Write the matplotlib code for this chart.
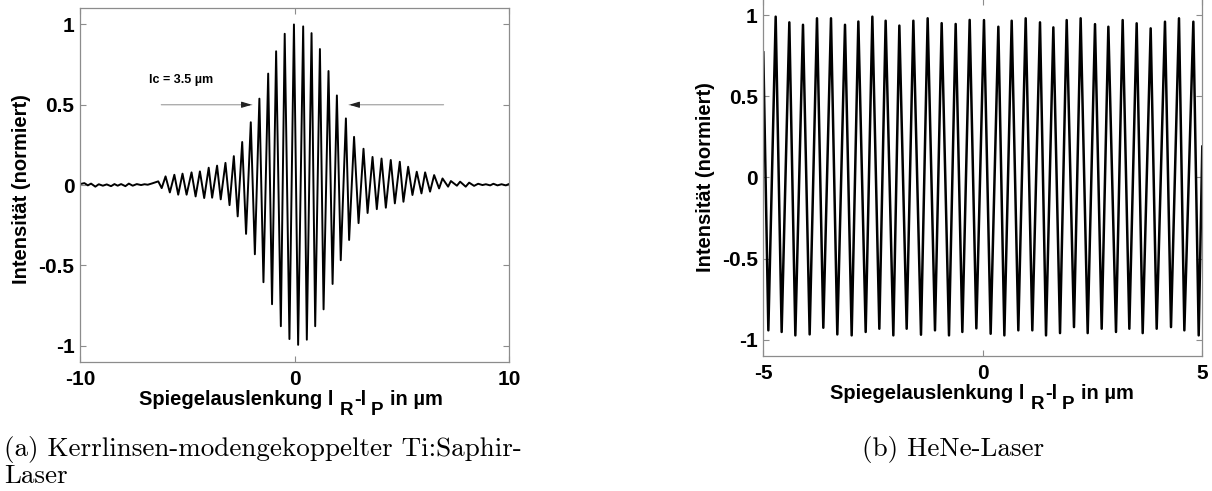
import matplotlib
matplotlib.use("Agg")
import matplotlib.pyplot as plt
from matplotlib.transforms import IdentityTransform

plt.rcParams['font.family'] = ['Liberation Sans', 'DejaVu Sans']
plt.rcParams['font.weight'] = 'bold'

# ---- (a) Ti:Sapphire white-light interferogram: extrema ----
ti_x = [-10.0, -9.80, -9.64, -9.49, -9.29, -9.13, -8.94, -8.76, -8.56, -8.40,
        -8.25, -8.09, -7.89, -7.73, -7.55, -7.36, -7.16, -7.00, -6.85, -6.65,
        -6.36, -6.20, -6.02, -5.82, -5.61, -5.43, -5.23, -5.04, -4.81, -4.62,
        -4.42, -4.22, -4.01, -3.85, -3.62, -3.45, -3.23, -3.04, -2.84, -2.66,
        -2.45, -2.27, -2.05, -1.86, -1.65, -1.46, -1.24, -1.06, -0.87, -0.65,
        -0.47, -0.25, -0.04, 0.155, 0.39, 0.56, 0.78, 0.95, 1.17, 1.34,
        1.57, 1.76, 1.96, 2.14, 2.38, 2.53, 2.76, 2.97, 3.20, 3.39,
        3.62, 3.82, 4.04, 4.24, 4.47, 4.66, 4.89, 5.06, 5.28, 5.48,
        5.68, 5.90, 6.07, 6.30, 6.49, 6.72, 6.88, 7.14, 7.27, 7.55,
        7.70, 7.96, 8.12, 8.35, 8.54, 8.74, 8.90, 9.10, 9.25, 9.44,
        9.63, 9.83, 10.0]
ti_y = [0.006, 0.012, -0.002, 0.009, -0.010, 0.005, -0.004, 0.004, -0.007, 0.006,
        -0.004, 0.006, -0.007, 0.009, -0.004, 0.006, 0.000, 0.005, 0.002, 0.010,
        0.023, -0.019, 0.054, -0.046, 0.064, -0.060, 0.071, -0.060, 0.079, -0.071,
        0.085, -0.081, 0.108, -0.079, 0.121, -0.089, 0.138, -0.125, 0.180, -0.195,
        0.268, -0.304, 0.391, -0.431, 0.538, -0.605, 0.694, -0.742, 0.833, -0.879,
        0.942, -0.959, 1.000, -0.995, 0.988, -0.963, 0.946, -0.879, 0.847, -0.774,
        0.710, -0.616, 0.558, -0.468, 0.415, -0.342, 0.300, -0.237, 0.226, -0.174,
        0.175, -0.150, 0.165, -0.141, 0.156, -0.114, 0.145, -0.104, 0.114, -0.062,
        0.083, -0.052, 0.079, -0.041, 0.062, -0.021, 0.041, -0.010, 0.025, -0.004,
        0.021, -0.010, 0.015, -0.005, 0.008, 0.000, 0.005, -0.002, 0.008, -0.002,
        0.005, -0.002, 0.008]

he_x = [-5.0, -4.885, -4.718, -4.582, -4.407, -4.270, -4.096, -3.944, -3.777, -3.633,
        -3.458, -3.314, -3.139, -2.987, -2.835, -2.668, -2.516, -2.357, -2.213, -2.038,
        -1.901, -1.734, -1.582, -1.408, -1.256, -1.089, -0.937, -0.770, -0.618, -0.466,
        -0.299, -0.147, 0.027, 0.179, 0.354, 0.491, 0.658, 0.809, 0.977, 1.128,
        1.303, 1.440, 1.607, 1.759, 1.911, 2.077, 2.229, 2.389, 2.556, 2.708,
        2.860, 3.034, 3.186, 3.338, 3.505, 3.642, 3.824, 3.961, 4.150, 4.287,
        4.469, 4.591, 4.796, 4.918, 5.0]
he_y = [0.77, -0.942, 0.99, -0.952, 0.955, -0.973, 0.94, -0.967, 0.98, -0.926,
        0.98, -0.967, 0.94, -0.973, 0.96, -0.952, 0.99, -0.932, 0.965, -0.973,
        0.935, -0.932, 0.965, -0.969, 0.98, -0.942, 0.95, -0.973, 0.945, -0.952,
        0.97, -0.93, 0.969, -0.963, 0.928, -0.973, 0.965, -0.942, 0.98, -0.942,
        0.955, -0.973, 0.924, -0.959, 0.969, -0.922, 0.98, -0.959, 0.944, -0.932,
        0.928, -0.952, 0.969, -0.932, 0.949, -0.959, 0.918, -0.932, 0.959, -0.922,
        0.98, -0.942, 0.959, -0.973, 0.19]

yticks = [-1, -0.5, 0, 0.5, 1]
ytick_labels = ['-1', '-0.5', '0', '0.5', '1']
xticks_a = [-10, 0, 10]
xticks_b = [-5, 0, 5]

# x label pieces: (text, is_subscript, gap after in px)
xlabel_parts = [('Spiegelauslenkung l', False, 6), ('R', True, 1), ('-l', False, 4),
                ('P', True, 7), ('in µm', False, 0)]
ylabel = 'Intensität (normiert)'
caption_a1 = '(a) Kerrlinsen-modengekoppelter Ti:Saphir-'
caption_a2 = 'Laser'
caption_b = '(b) HeNe-Laser'
lc_label = 'lc = 3.5 µm'

W, H = 1212, 491
fig = plt.figure(figsize=(W / 100, H / 100), dpi=100)

axA = fig.add_axes([80.1 / W, 1 - 361.7 / H, 429.4 / W, 353.3 / H])
axB = fig.add_axes([763.3 / W, 1 - 356.0 / H, 439.0 / W, 357.2 / H])

FS = 14.5
TFS = 15
spine_col = '#8c8c8c'
for ax, xt, xl in ((axA, xticks_a, (-10, 10)), (axB, xticks_b, (-5, 5))):
    ax.set_xlim(*xl)
    ax.set_ylim(-1.1, 1.1)
    ax.set_xticks(xt)
    ax.set_xticklabels([str(v) for v in xt])
    ax.set_yticks(yticks)
    ax.set_yticklabels(ytick_labels)
    for s in ax.spines.values():
        s.set_color(spine_col)
        s.set_linewidth(0.9)
    ax.tick_params(direction='in', length=4, width=0.8, color=spine_col,
                   top=True, right=True, labelsize=TFS)
    ax.tick_params(axis='x', pad=6)
    ax.tick_params(axis='y', pad=4)
    for lab in ax.get_xticklabels() + ax.get_yticklabels():
        lab.set_fontweight('bold')
    ax.set_ylabel(ylabel, fontsize=FS, fontweight='bold')

axA.plot(ti_x, ti_y, color='black', lw=1.4, solid_joinstyle='round')
axB.plot(he_x, he_y, color='black', lw=1.8, solid_joinstyle='round')

axA.yaxis.set_label_coords(-0.115, 0.49)
axB.yaxis.set_label_coords(-0.11, 0.5)

# composed x labels with lowered subscripts
renderer = fig.canvas.get_renderer()


def build_xlabel(cx, base_y, main_fs=FS, sub_fs=13.5, drop=10):
    texts, widths = [], []
    for s, sub, gap in xlabel_parts:
        t = fig.text(0, 0, s, transform=IdentityTransform(), fontsize=sub_fs if sub else main_fs,
                     fontweight='bold', va='baseline', ha='left')
        texts.append(t)
        widths.append(t.get_window_extent(renderer).width)
    total = sum(widths) + sum(p[2] for p in xlabel_parts[:-1])
    x = cx - total / 2
    for (s, sub, gap), t, w in zip(xlabel_parts, texts, widths):
        t.set_position((x, base_y - (drop if sub else 0)))
        x += w + gap


build_xlabel(291, H - 405)
build_xlabel(982, H - 399)

# annotation lc
axA.text(-6.78, 0.654, lc_label, fontsize=9, fontweight='bold', va='center', ha='left')
for x0, x1 in ((-6.22, -2.0), (6.93, 2.53)):
    axA.annotate('', xy=(x1, 0.5), xytext=(x0, 0.5),
                 arrowprops=dict(arrowstyle='-', color='#9a9a9a', lw=0.8, shrinkA=0, shrinkB=0))
    d = 0.35 if x1 > x0 else -0.35
    axA.annotate('', xy=(x1, 0.5), xytext=(x1 - d, 0.5),
                 arrowprops=dict(arrowstyle='-|>,head_length=0.6,head_width=0.18', color='#222222',
                                 lw=0.8, shrinkA=0, shrinkB=0))

cap_kw = dict(fontsize=19.5, family='cmr10', fontweight='normal', va='baseline', ha='left',
              transform=IdentityTransform())
fig.text(4, H - 456, caption_a1, **cap_kw)
fig.text(4, H - 483, caption_a2, **cap_kw)
fig.text(862, H - 456, caption_b, **cap_kw)

fig.savefig('out.png', dpi=100)
